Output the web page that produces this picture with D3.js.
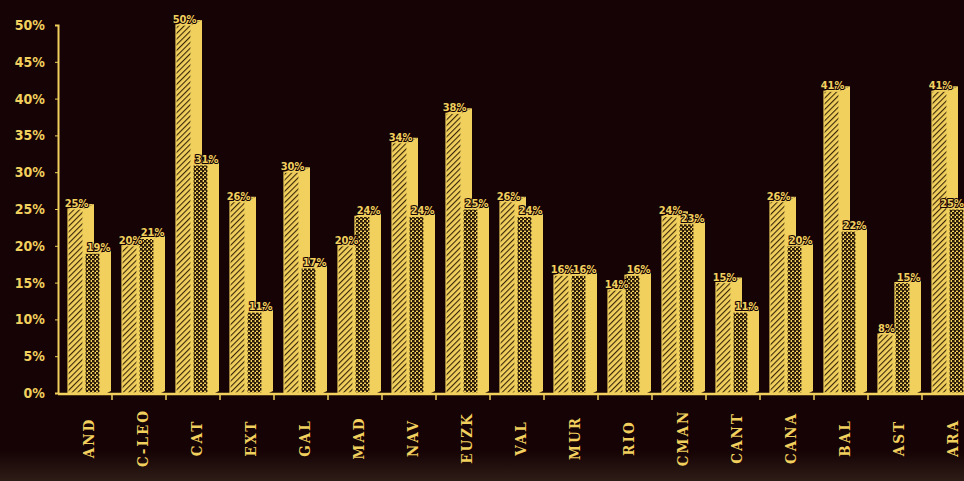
<!DOCTYPE html>
<html>
<head>
<meta charset="utf-8">
<script src="https://cdn.jsdelivr.net/npm/d3@7"></script>
<style>
  body { margin: 0; background: #150305; }
  svg { display: block; }
  .axis text { fill: #f1d05e; font-family: "DejaVu Sans Condensed", sans-serif; font-weight: bold; }
  .axis path, .axis line { stroke: #f1d05e; }
  .value { fill: #f1d05e; font-family: "DejaVu Sans Condensed", sans-serif; font-weight: bold; font-size: 11px;
           stroke: #150305; stroke-width: 2px; paint-order: stroke; }
</style>
</head>
<body>
<svg width="964" height="481"></svg>
<script>
// regions
const categories = ["AND", "C-LEO", "CAT", "EXT", "GAL", "MAD", "NAV", "EUZK", "VAL",
  "MUR", "RIO", "CMAN", "CANT", "CANA", "BAL", "AST", "ARA"];
// first (hatched) bar
const seriesA = [25, 20, 50, 26, 30, 20, 34, 38, 26, 16, 14, 24, 15, 26, 41, 8, 41];
// second (dotted) bar
const seriesB = [19, 21, 31, 11, 17, 24, 24, 25, 24, 16, 16, 23, 11, 20, 22, 15, 25];
const yTicks = [0, 5, 10, 15, 20, 25, 30, 35, 40, 45, 50];

const yellow = "#f1d05e";
const dark = "#150305";

const svg = d3.select("svg");

const defs = svg.append("defs");

// diagonal hatch for first bar
const hatchA = defs.append("pattern")
  .attr("id", "hatchA")
  .attr("width", 4)
  .attr("height", 4)
  .attr("patternUnits", "userSpaceOnUse")
  .attr("patternTransform", "rotate(45)");
hatchA.append("rect").attr("width", 4).attr("height", 4).attr("fill", yellow);
hatchA.append("line").attr("x1", 0).attr("y1", 0).attr("x2", 0).attr("y2", 4)
  .attr("stroke", "#3a2608").attr("stroke-width", 2.2);

// dark checker for second bar
const hatchB = defs.append("pattern")
  .attr("id", "hatchB")
  .attr("width", 4)
  .attr("height", 4)
  .attr("patternUnits", "userSpaceOnUse");
hatchB.append("rect").attr("width", 4).attr("height", 4).attr("fill", yellow);
hatchB.append("rect").attr("width", 2.6).attr("height", 2.6).attr("fill", "#2a1808");
hatchB.append("rect").attr("x", 2).attr("y", 2).attr("width", 2.6).attr("height", 2.6).attr("fill", "#2a1808");

// faint brown glow at the bottom edge
const grad = defs.append("linearGradient")
  .attr("id", "bottomGlow")
  .attr("x1", 0).attr("y1", 0).attr("x2", 0).attr("y2", 1);
grad.append("stop").attr("offset", "0%").attr("stop-color", dark);
grad.append("stop").attr("offset", "100%").attr("stop-color", "#2e1c17");

svg.append("rect")
  .attr("x", 0)
  .attr("y", 0)
  .attr("width", 964)
  .attr("height", 481)
  .attr("fill", dark);
svg.append("rect")
  .attr("x", 0)
  .attr("y", 450)
  .attr("width", 964)
  .attr("height", 31)
  .attr("fill", "url(#bottomGlow)");

const y = d3.scaleLinear().domain([0, 50]).range([393, 25]);
const x = d3.scaleBand().domain(categories).range([58, 58 + 54 * 17]);

// bar geometry inside a band
const frontW = 15;
const depth = 11;
const lift = 5;
const offsets = [10, 27];
// label nudges so the two percentages don't sit on each other
const labelShift = [1, 6];

const data = categories.map((c, i) => {
  return { cat: c, values: [seriesA[i], seriesB[i]] };
});

const groups = svg.selectAll("g.region")
  .data(data)
  .enter()
  .append("g")
  .attr("class", "region");

[0, 1].forEach((s) => {
  const left = (d) => x(d.cat) + offsets[s];
  const top = (d) => y(d.values[s]);

  // side face (solid)
  groups.append("path")
    .attr("fill", yellow)
    .attr("d", (d) => {
      const xr = left(d) + frontW;
      return `M${xr},${top(d)} L${xr + depth},${top(d) - lift} L${xr + depth},${y(0) - 2} L${xr + depth - 4},${y(0)} L${xr},${y(0)} Z`;
    });

  // top face
  groups.append("path")
    .attr("fill", yellow)
    .attr("d", (d) => {
      const xl = left(d);
      return `M${xl},${top(d)} L${xl + frontW},${top(d)} L${xl + frontW + depth},${top(d) - lift} L${xl + depth},${top(d) - lift} Z`;
    });

  // front face (patterned)
  groups.append("rect")
    .attr("x", left)
    .attr("y", top)
    .attr("width", frontW)
    .attr("height", (d) => y(0) - top(d))
    .attr("fill", s === 0 ? "url(#hatchA)" : "url(#hatchB)")
    .attr("stroke", yellow)
    .attr("stroke-width", 1.2);
});

// value labels on top
[0, 1].forEach((s) => {
  groups.append("text")
    .attr("class", "value")
    .attr("x", (d) => Math.min(x(d.cat) + offsets[s] + frontW / 2 + labelShift[s], 952))
    .attr("y", (d) => y(d.values[s]) - 2)
    .attr("text-anchor", "middle")
    .text((d) => d.values[s] + "%");
});

// y axis
const yAxis = d3.axisLeft(y)
  .tickValues(yTicks)
  .tickFormat((d) => d + "%")
  .tickSize(3)
  .tickPadding(10);

const yG = svg.append("g")
  .attr("class", "axis")
  .attr("transform", "translate(58,0)")
  .call(yAxis);
yG.select(".domain").attr("stroke-width", 2);
yG.selectAll("text").style("font-size", "14px");

// x axis: labels at band centres
const xAxis = d3.axisBottom(x).tickSize(0).tickPadding(0);
const xG = svg.append("g")
  .attr("class", "axis")
  .attr("transform", "translate(0,394)")
  .call(xAxis);
xG.select(".domain").attr("stroke-width", 2.5).attr("d", "M58,0H964");
xG.selectAll("text")
  .attr("y", 0)
  .attr("dy", "0.35em")
  .attr("transform", "translate(4,44) rotate(-90)")
  .attr("text-anchor", "middle")
  .style("font-family", "'DejaVu Serif Condensed', serif")
  .style("font-size", "15px")
  .style("letter-spacing", "2px");

// small ticks at band edges
xG.selectAll("line.edge")
  .data(categories)
  .enter()
  .append("line")
  .attr("class", "edge")
  .attr("x1", (d) => x(d) + x.bandwidth())
  .attr("x2", (d) => x(d) + x.bandwidth())
  .attr("y1", 0)
  .attr("y2", 6)
  .attr("stroke-width", 1.5);
</script>
</body>
</html>
